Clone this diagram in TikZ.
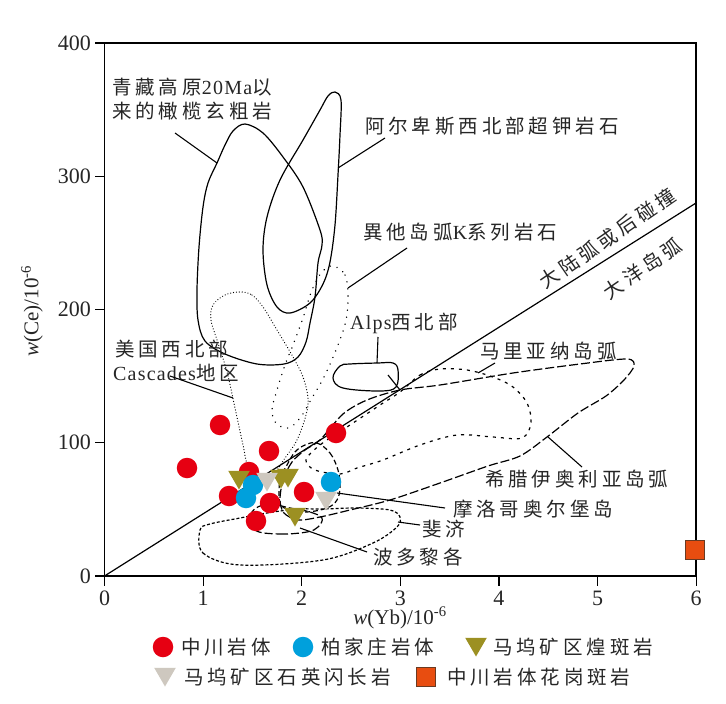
\documentclass[tikz,border=0pt]{standalone}
\usepackage{fontspec}
\setmainfont{Liberation Serif}
\newfontfamily\cjk{Noto Sans CJK SC}[LetterSpace=20]
\newfontfamily\latf{Liberation Serif}[LetterSpace=6]
\newcommand\latx[1]{{\latf\fontsize{20}{23}\selectfont #1}}
\usetikzlibrary{shapes.geometric}
\definecolor{cred}{HTML}{E60012}
\definecolor{cblue}{HTML}{00A0DC}
\definecolor{colive}{HTML}{9C9022}
\definecolor{cgray}{HTML}{CEC8BF}
\definecolor{corange}{HTML}{E84D10}
\definecolor{cbrown}{HTML}{6A3A22}
\definecolor{txt}{HTML}{262626}
\tikzset{
  lbl/.style={font=\cjk\fontsize{19.5}{23}\selectfont, inner sep=0pt, anchor=west, text=txt},
  leader/.style={line width=1.1pt},
  solidc/.style={line width=1.2pt},
  sparsedot/.style={line width=1.5pt, line cap=round, dash pattern=on 0.1pt off 7pt},
  densedot/.style={line width=1.2pt, line cap=round, dash pattern=on 0.1pt off 2.8pt},
  shortdash/.style={line width=1.2pt, dash pattern=on 3pt off 5pt},
  longdash/.style={line width=1.2pt, dash pattern=on 9pt off 3pt},
  meddash/.style={line width=1.2pt, dash pattern=on 5pt off 3pt},
  densedash/.style={line width=1.2pt, dash pattern=on 3pt off 2pt},
  polydash/.style={line width=1.2pt, dash pattern=on 8pt off 3pt},
  redpt/.style={circle, fill=cred, minimum size=20.5pt, inner sep=0pt},
  bluept/.style={circle, fill=cblue, minimum size=20.5pt, inner sep=0pt},
  tri/.style={regular polygon, regular polygon sides=3, shape border rotate=180, minimum size=25pt, inner sep=0pt},
  olivept/.style={tri, fill=colive},
  graypt/.style={tri, fill=cgray},
  sqpt/.style={rectangle, fill=corange, draw=cbrown, line width=1pt, minimum size=19pt, inner sep=0pt},
  ticklbl/.style={font=\fontsize{22}{24}\selectfont, inner sep=0pt, text=txt},
  axlbl/.style={font=\fontsize{21}{24}\selectfont, inner sep=0pt, text=txt}
}
\begin{document}
\begin{tikzpicture}[x=1pt,y=-1pt]
\useasboundingbox[fill=white] (0,0) rectangle (726,704);

% frame
\draw[line width=1.3pt] (104.5,43) rectangle (696,576);
\foreach \i in {0,...,6}{
  \draw[line width=1.2pt] (104.5+98.6*\i,576) -- ++(0,10);
  \node[ticklbl] (xt\i) at (104.5+98.6*\i,598) {\i};
}
\foreach \j in {0,...,4}{
  \pgfmathtruncatemacro\yv{100*\j}
  \draw[line width=1.2pt] (104.5,576-133.25*\j) -- ++(-9.5,0);
  \node[ticklbl, anchor=east] (yt\j) at (91,576-133.25*\j) {\yv};
}
\node[axlbl] (xlab) at (400,618) {\textit{w}(Yb)/10\textsuperscript{-6}};
\node[axlbl, rotate=90] (ylab) at (32,311) {\textit{w}(Ce)/10\textsuperscript{-6}};

% main discrimination line
\coordinate (o) at (104.5,576);
\coordinate (dend) at (696,203);
\draw[line width=1.2pt] (o) -- (dend);
\node[lbl, anchor=center, rotate=34.5] (cont) at (607.5,238.5) {大陆弧或后碰撞};
\node[lbl, anchor=center, rotate=34.5] (ocean) at (642.5,268.5) {大洋岛弧};

% contours
\draw[solidc] plot[smooth cycle, tension=0.55] coordinates {
 (245,124) (263,133) (283,157) (303,187) (320,230) (322,245) (318,263) (315,297)
 (310,323) (306,342) (298,357) (284,364) (257,364) (225,354) (205,341) (198,320)
 (197,290) (199,247) (203,207) (208,183) (217,163) (225,145) (233,131)};
\draw[solidc] plot[smooth cycle, tension=0.55] coordinates {
 (335,92) (341,100) (340,135) (338,175) (335,225) (330,262) (323,284) (310,303)
 (290,313) (277,307) (267,285) (263,250) (267,217) (280,180) (303,140) (320,110) (328,96)};
\draw[sparsedot] plot[smooth cycle, tension=0.6] coordinates {
 (333,266) (345,275) (348,295) (346,320) (338,345) (325,375) (312,398) (300,418)
 (288,428) (276,423) (272,410) (277,390) (285,365) (293,345) (303,318) (312,290) (322,272)};
\draw[densedot] plot[smooth cycle, tension=0.6] coordinates {
 (240,292) (252,295) (263,307) (277,330) (293,357) (303,377) (308,398) (306,415)
 (297,440) (285,458) (275,472) (260,478) (248,466) (243,445) (235,408) (227,372)
 (217,340) (211,320) (213,305) (225,295)};
\draw[solidc] plot[smooth cycle, tension=0.6] coordinates {
 (340,366) (333,378) (343,388) (380,391) (396,387) (398,370) (393,363) (378,363) (350,364)};
\draw[shortdash] plot[smooth cycle, tension=0.55] coordinates {
 (400,392) (420,375) (440,369) (467,370) (493,377) (513,387) (527,403) (531,423)
 (522,438) (493,437) (457,435) (420,445) (383,460) (357,468) (340,474) (315,470)
 (306,460) (320,445) (350,425) (380,405)};
\draw[longdash] plot[smooth cycle, tension=0.5] coordinates {
 (280,500) (283,480) (292,462) (305,450) (320,440) (343,414) (367,400) (400,390)
 (440,385) (513,373) (580,364) (627,359) (634,366) (624,380) (606,396) (578,413)
 (547,437) (520,456) (488,466) (440,483) (390,500) (350,510) (320,517) (298,520) (284,513)};
\draw[meddash] plot[smooth cycle, tension=0.6] coordinates {
 (317,443) (330,453) (338,470) (340,487) (337,500) (327,508) (307,512) (290,510)
 (280,503) (280,480) (287,465) (295,452) (305,445)};
\draw[densedash] plot[smooth cycle, tension=0.55] coordinates {
 (200,530) (203,553) (240,565) (323,560) (373,543) (397,527) (400,517) (390,510)
 (357,508) (323,509) (300,509) (273,512) (240,518) (210,524)};
\draw[polydash] plot[smooth cycle, tension=0.6] coordinates {
 (255,530) (280,534) (307,532) (318,527) (322,518) (310,512) (290,508) (268,504) (252,512)};

% labels and leaders
\node[lbl] (qz1) at (112,87) {青藏高原\latx{20Ma}以};
\node[lbl] (qz2) at (112,111) {来的橄榄玄粗岩};
\coordinate (qzA) at (175,133); \coordinate (qzB) at (217,163);
\draw[leader] (qzA) -- (qzB);

\node[lbl] (alp) at (365,126) {阿尔卑斯西北部超钾岩石};
\coordinate (alpA) at (385,138); \coordinate (alpB) at (338,168);
\draw[leader] (alpA) -- (alpB);

\node[lbl] (sun) at (363,232) {異他岛弧\latx{K}系列岩石};
\coordinate (sunA) at (407,248); \coordinate (sunB) at (348,288);
\draw[leader] (sunA) -- (sunB);

\node[lbl] (alps) at (350,323.5) {\latx{Alps}西北部};
\coordinate (alpsA) at (378,337); \coordinate (alpsB) at (377,363);
\draw[leader] (alpsA) -- (alpsB);
\coordinate (alpsC) at (388,375); \coordinate (alpsD) at (400,390);
\draw[leader] (alpsC) -- (alpsD);

\node[lbl] (us1) at (115,349) {美国西北部};
\node[lbl] (us2) at (113,373) {\latx{Cascades}地区};
\coordinate (usA) at (170,376); \coordinate (usB) at (233,398);
\draw[leader] (usA) -- (usB);

\node[lbl] (mar) at (480,351) {马里亚纳岛弧};
\coordinate (marA) at (495,363); \coordinate (marB) at (478,373);
\draw[leader] (marA) -- (marB);

\node[lbl] (gre) at (485,479) {希腊伊奥利亚岛弧};
\coordinate (greA) at (582,467); \coordinate (greB) at (548,437);
\draw[leader] (greA) -- (greB);

\node[lbl] (mor) at (453,509) {摩洛哥奥尔堡岛};
\coordinate (morA) at (445,508); \coordinate (morB) at (337,493);
\draw[leader] (morA) -- (morB);

\node[lbl] (fij) at (422,529) {斐济};
\coordinate (fijA) at (420,525); \coordinate (fijB) at (398,522);
\draw[leader] (fijA) -- (fijB);

\node[lbl] (pr) at (373,557) {波多黎各};
\coordinate (prA) at (367,552); \coordinate (prB) at (300,528);
\draw[leader] (prA) -- (prB);

% data points
\node[redpt] (r1) at (220,425) {};
\node[redpt] (r2) at (187,468) {};
\node[redpt] (r3) at (269,451) {};
\node[redpt] (r4) at (336,433) {};
\node[redpt] (r5) at (249,472) {};
\node[redpt] (r6) at (229,496) {};
\node[redpt] (r7) at (270,503) {};
\node[redpt] (r8) at (304,492) {};
\node[redpt] (r9) at (256,521) {};
\node[olivept] (o1) at (239,477) {};
\node[olivept] (o2) at (281,476) {};
\node[olivept] (o3) at (288,475) {};
\node[olivept] (o4) at (295,514) {};
\node[bluept] (b1) at (253,485) {};
\node[bluept] (b2) at (246,498) {};
\node[bluept] (b3) at (331,482) {};
\node[graypt] (g1) at (267,479) {};
\node[graypt] (g2) at (326,498) {};
\node[sqpt] (s1) at (695,550) {};

% legend
\node[redpt] (lr) at (163,647) {};
\node[lbl] (lrt) at (181,647) {中川岩体};
\node[bluept] (lb) at (303,647) {};
\node[lbl] (lbt) at (321,647) {柏家庄岩体};
\node[olivept] (lo) at (476,644) {};
\node[lbl] (lot) at (493,647) {马坞矿区煌斑岩};
\node[graypt] (lg) at (165,674) {};
\node[lbl] (lgt) at (184,677) {马坞矿区石英闪长岩};
\node[sqpt] (ls) at (426,677) {};
\node[lbl] (lst) at (447,677) {中川岩体花岗斑岩};
\end{tikzpicture}
\end{document}
